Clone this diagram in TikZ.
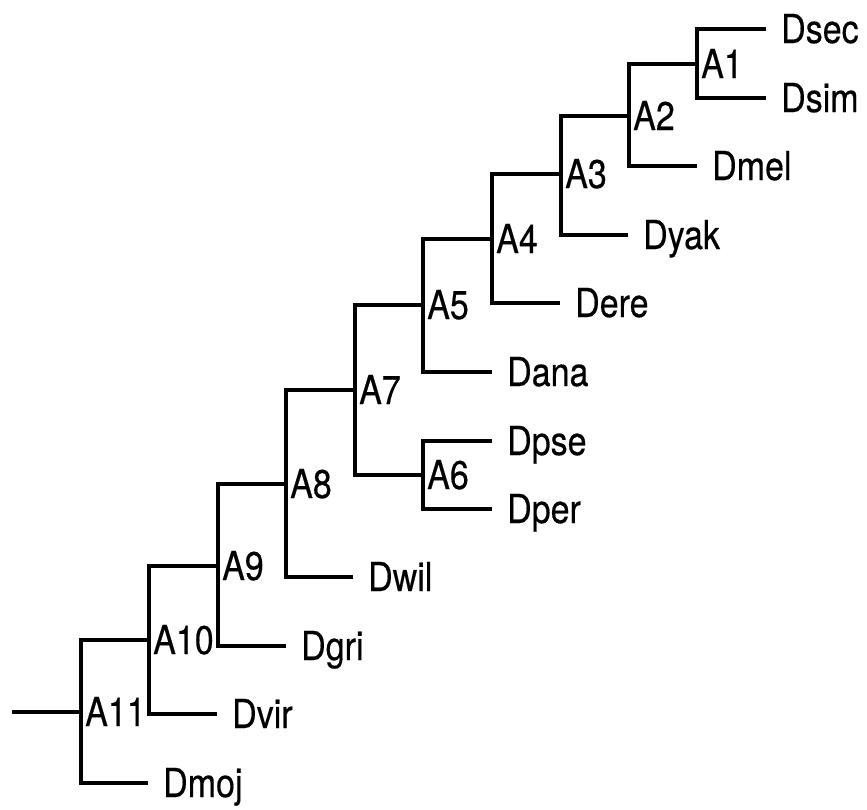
\documentclass[tikz,border=0pt]{standalone}
\usepackage{fontspec}
\setmainfont[FakeStretch=0.85,FakeBold=0.4]{TeX Gyre Heros}
\begin{document}
\begin{tikzpicture}[x=1pt,y=-1pt,
  br/.style={line width=3.2pt,line join=miter},
  inlab/.style={anchor=base west,inner sep=0pt,font=\fontsize{40}{48}\selectfont},
  leaflab/.style={anchor=base west,inner sep=0pt,font=\fontsize{40}{48}\selectfont}]
\useasboundingbox (0,0) rectangle (867,809);
% internal nodes
\coordinate (root) at (12,712);
\coordinate (A11) at (81,712);
\coordinate (A10) at (149,640);
\coordinate (A9) at (218,566);
\coordinate (A8) at (286,484);
\coordinate (A7) at (355,390);
\coordinate (A6) at (423,475);
\coordinate (A5) at (423,305);
\coordinate (A4) at (492,239);
\coordinate (A3) at (561,174);
\coordinate (A2) at (629,116);
\coordinate (A1) at (697,64);
% leaf line ends
\coordinate (Dmoj-e) at (148,783);
\coordinate (Dvir-e) at (217,714);
\coordinate (Dgri-e) at (286,646);
\coordinate (Dwil-e) at (353,577);
\coordinate (Dpse-e) at (492,441);
\coordinate (Dper-e) at (492,509);
\coordinate (Dana-e) at (492,372);
\coordinate (Dere-e) at (560,303);
\coordinate (Dyak-e) at (628,235);
\coordinate (Dmel-e) at (697,166);
\coordinate (Dsec-e) at (766,29);
\coordinate (Dsim-e) at (766,98);
% internal labels
\foreach \n in {A1,A2,A3,A4,A5,A6,A7,A8,A9,A10,A11}
  \node[inlab] (\n-l) at ([xshift=4pt,yshift=-14pt]\n) {\n};
% leaf labels
\foreach \n in {Dmoj,Dvir,Dgri,Dwil,Dpse,Dper,Dana,Dere,Dyak,Dmel,Dsec,Dsim}
  \node[leaflab] (\n) at ([xshift=15pt,yshift=-14pt]\n-e) {\n};
% connectors
\draw[br] (root) -- (A11);
\draw[br] (A11) |- (A10);
\draw[br] (A11) |- (Dmoj-e);
\draw[br] (A10) |- (A9);
\draw[br] (A10) |- (Dvir-e);
\draw[br] (A9) |- (A8);
\draw[br] (A9) |- (Dgri-e);
\draw[br] (A8) |- (A7);
\draw[br] (A8) |- (Dwil-e);
\draw[br] (A7) |- (A5);
\draw[br] (A7) |- (A6);
\draw[br] (A6) |- (Dpse-e);
\draw[br] (A6) |- (Dper-e);
\draw[br] (A5) |- (A4);
\draw[br] (A5) |- (Dana-e);
\draw[br] (A4) |- (A3);
\draw[br] (A4) |- (Dere-e);
\draw[br] (A3) |- (A2);
\draw[br] (A3) |- (Dyak-e);
\draw[br] (A2) |- (A1);
\draw[br] (A2) |- (Dmel-e);
\draw[br] (A1) |- (Dsec-e);
\draw[br] (A1) |- (Dsim-e);
\end{tikzpicture}
\end{document}
